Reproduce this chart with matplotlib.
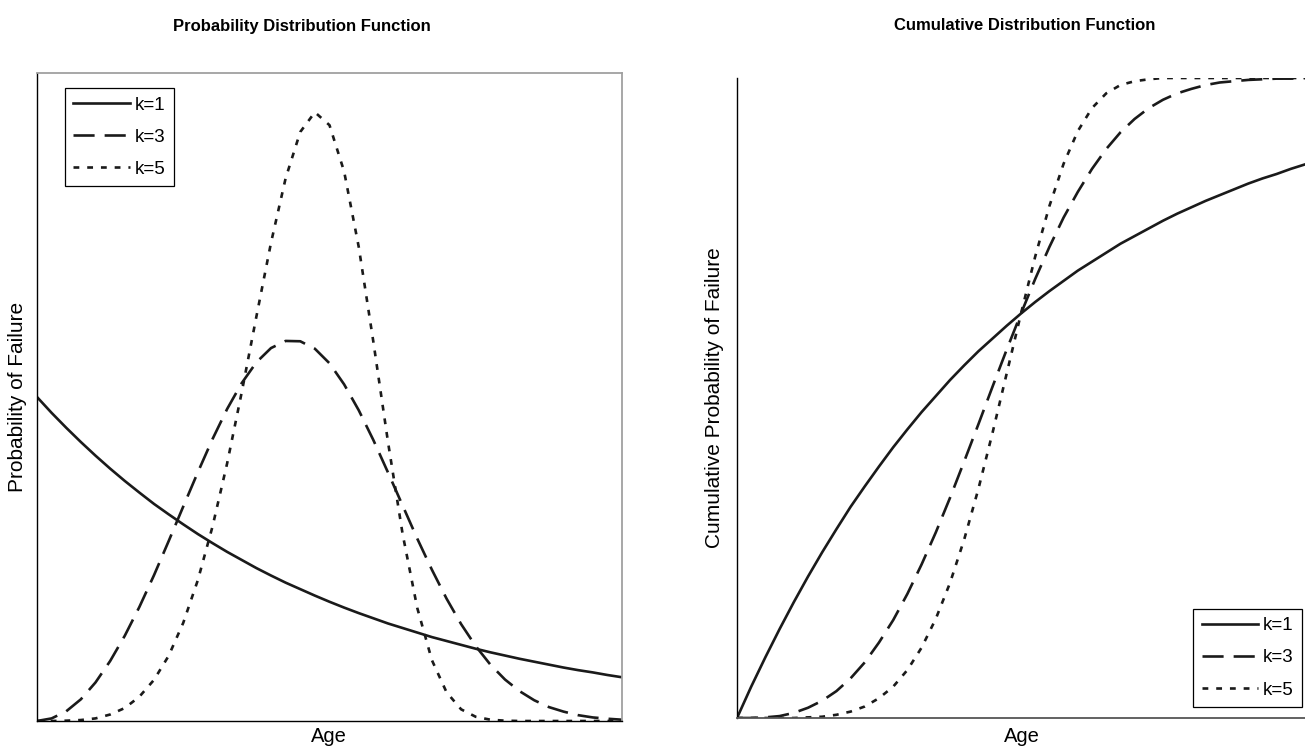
import matplotlib
matplotlib.use("Agg")
import matplotlib.pyplot as plt

plt.rcParams["font.family"] = ["Liberation Sans", "DejaVu Sans"]

# ---- values (age axis 0..2) ----
age = [0.00, 0.05, 0.10, 0.15, 0.20, 0.25, 0.30, 0.35, 0.40, 0.45,
       0.50, 0.55, 0.60, 0.65, 0.70, 0.75, 0.80, 0.85, 0.90, 0.95,
       1.00, 1.05, 1.10, 1.15, 1.20, 1.25, 1.30, 1.35, 1.40, 1.45,
       1.50, 1.55, 1.60, 1.65, 1.70, 1.75, 1.80, 1.85, 1.90, 1.95, 2.00]

pdf_k1 = [1.000, 0.951, 0.905, 0.861, 0.819, 0.779, 0.741, 0.705, 0.670, 0.638,
          0.607, 0.577, 0.549, 0.522, 0.497, 0.472, 0.449, 0.427, 0.407, 0.387,
          0.368, 0.350, 0.333, 0.317, 0.301, 0.287, 0.273, 0.259, 0.247, 0.235,
          0.223, 0.212, 0.202, 0.192, 0.183, 0.174, 0.165, 0.157, 0.150, 0.142, 0.135]
pdf_k3 = [0.000, 0.008, 0.030, 0.067, 0.119, 0.185, 0.263, 0.352, 0.450, 0.555,
          0.662, 0.768, 0.870, 0.963, 1.043, 1.107, 1.151, 1.173, 1.172, 1.149,
          1.104, 1.039, 0.959, 0.867, 0.767, 0.665, 0.563, 0.467, 0.378, 0.299,
          0.231, 0.174, 0.128, 0.092, 0.064, 0.043, 0.029, 0.018, 0.011, 0.007, 0.004]
pdf_k5 = [0.000, 0.000, 0.001, 0.003, 0.008, 0.020, 0.040, 0.075, 0.127, 0.201,
          0.303, 0.435, 0.600, 0.795, 1.015, 1.248, 1.476, 1.675, 1.818, 1.879,
          1.839, 1.696, 1.463, 1.170, 0.861, 0.577, 0.349, 0.188, 0.089, 0.036,
          0.013, 0.004, 0.001, 0.000, 0.000, 0.000, 0.000, 0.000, 0.000, 0.000, 0.000]

cdf_k1 = [0.000, 0.049, 0.095, 0.139, 0.181, 0.221, 0.259, 0.295, 0.330, 0.362,
          0.393, 0.423, 0.451, 0.478, 0.503, 0.528, 0.551, 0.573, 0.593, 0.613,
          0.632, 0.650, 0.667, 0.683, 0.699, 0.713, 0.727, 0.741, 0.753, 0.765,
          0.777, 0.788, 0.798, 0.808, 0.817, 0.826, 0.835, 0.843, 0.850, 0.858, 0.865]
cdf_k3 = [0.000, 0.000, 0.001, 0.003, 0.008, 0.016, 0.027, 0.042, 0.062, 0.087,
          0.118, 0.153, 0.194, 0.240, 0.290, 0.344, 0.401, 0.459, 0.518, 0.576,
          0.632, 0.686, 0.736, 0.782, 0.822, 0.858, 0.889, 0.915, 0.936, 0.953,
          0.966, 0.976, 0.983, 0.989, 0.993, 0.995, 0.997, 0.998, 0.999, 0.999, 1.000]
cdf_k5 = [0.000, 0.000, 0.000, 0.000, 0.000, 0.001, 0.002, 0.005, 0.010, 0.018,
          0.031, 0.049, 0.075, 0.110, 0.155, 0.211, 0.279, 0.358, 0.446, 0.539,
          0.632, 0.721, 0.800, 0.866, 0.917, 0.953, 0.976, 0.989, 0.995, 0.998,
          1.000, 1.000, 1.000, 1.000, 1.000, 1.000, 1.000, 1.000, 1.000, 1.000, 1.000]

labels = ["k=1", "k=3", "k=5"]
styles = ["-", (0, (8, 3.8)), (0, (2.2, 3.0))]
INK = "#1a1a1a"
LW = 1.9

W, H = 1305, 749
fig = plt.figure(figsize=(W / 100, H / 100), dpi=100, facecolor="white")

def px_axes(x0, x1, ytop, ybot):
    return fig.add_axes([x0 / W, 1 - ybot / H, (x1 - x0) / W, (ybot - ytop) / H])

ax1 = px_axes(37, 622, 73, 721)
ax2 = px_axes(737, 1305, 78, 718)

for ys, ax in (([pdf_k1, pdf_k3, pdf_k5], ax1), ([cdf_k1, cdf_k3, cdf_k5], ax2)):
    for y, ls, lab in zip(ys, styles, labels):
        ax.plot(age, y, color=INK, lw=LW, linestyle=ls, label=lab)
    ax.set_xlim(0, 2)
    ax.set_xticks([]); ax.set_yticks([])

ax1.set_ylim(0, 2)
ax2.set_ylim(0, 1)

for sp in ("left", "bottom"):
    ax1.spines[sp].set_color("black"); ax1.spines[sp].set_linewidth(1.0)
for sp in ("top", "right"):
    ax1.spines[sp].set_color("#a0a0a0"); ax1.spines[sp].set_linewidth(1.3)
ax2.spines["left"].set_color("black"); ax2.spines["left"].set_linewidth(1.0)
ax2.spines["bottom"].set_color("#555555"); ax2.spines["bottom"].set_linewidth(1.3)
ax2.spines["top"].set_visible(False); ax2.spines["right"].set_visible(False)

leg_kw = dict(fontsize=13.5, handlelength=3.0, handletextpad=0.25, labelspacing=0.8,
              borderpad=0.45, borderaxespad=0, fancybox=False, framealpha=1,
              edgecolor="black")
lg1 = ax1.legend(loc="upper left", bbox_to_anchor=(65 / W, 1 - 88 / H),
                 bbox_transform=fig.transFigure, **leg_kw)
lg2 = ax2.legend(loc="lower right", bbox_to_anchor=(1302 / W, 1 - 707 / H),
                 bbox_transform=fig.transFigure, **leg_kw)
for lg in (lg1, lg2):
    lg.get_frame().set_linewidth(0.9)

fig.text(302 / W, 1 - 26 / H, "Probability Distribution Function",
         ha="center", va="center", fontsize=12, fontweight="bold")
fig.text(1025 / W, 1 - 26 / H, "Cumulative Distribution Function",
         ha="center", va="center", fontsize=12, fontweight="bold")
fig.text(18 / W, 1 - 397 / H, "Probability of Failure", rotation=90,
         ha="center", va="center", fontsize=15)
fig.text(715 / W, 1 - 398 / H, "Cumulative Probability of Failure", rotation=90,
         ha="center", va="center", fontsize=15)
fig.text(329 / W, 1 - 737 / H, "Age", ha="center", va="center", fontsize=14.5)
fig.text(1022 / W, 1 - 736 / H, "Age", ha="center", va="center", fontsize=14.5)

fig.savefig("out.png", dpi=100, facecolor="white")
